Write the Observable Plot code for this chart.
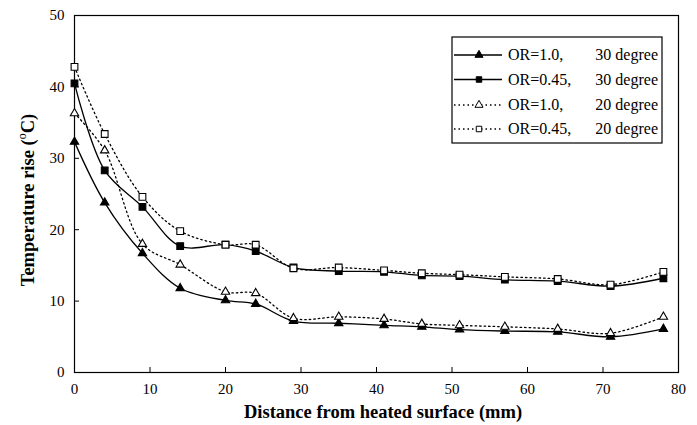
<!DOCTYPE html>
<html>
<head>
<meta charset="utf-8">
<script src="https://cdn.jsdelivr.net/npm/d3@7"></script>
<script src="https://cdn.jsdelivr.net/npm/@observablehq/plot@0.6"></script>
<style>
  html, body { margin: 0; padding: 0; background: #fff; }
  #chart { width: 697px; height: 425px; }
</style>
</head>
<body>
<div id="chart"></div>
<script>
// Data
const distance = [0, 4, 9, 14, 20, 24, 29, 35, 41, 46, 51, 57, 64, 71, 78];
const or10_30 = [32.3, 23.8, 16.7, 11.8, 10.1, 9.6, 7.2, 6.9, 6.6, 6.4, 6.0, 5.8, 5.7, 5.0, 6.1];
const or045_30 = [40.5, 28.3, 23.2, 17.7, 17.9, 17.0, 14.7, 14.2, 14.1, 13.6, 13.5, 13.0, 12.8, 12.1, 13.2];
const or10_20 = [36.3, 31.1, 18.0, 15.1, 11.3, 11.1, 7.6, 7.8, 7.5, 6.8, 6.6, 6.4, 6.1, 5.5, 7.8];
const or045_20 = [42.8, 33.4, 24.6, 19.8, 17.9, 17.9, 14.6, 14.7, 14.3, 13.9, 13.7, 13.4, 13.1, 12.3, 14.1];
const xTicks = [0, 10, 20, 30, 40, 50, 60, 70, 80];
const yTicks = [0, 10, 20, 30, 40, 50];
const seriesNames = ["OR=1.0,", "OR=0.45,", "OR=1.0,", "OR=0.45,"];
const seriesAngles = ["30 degree", "30 degree", "20 degree", "20 degree"];

const series = [
  {values: or10_30, symbol: "triangle", fill: "black", dash: null},
  {values: or045_30, symbol: "square", fill: "black", dash: null},
  {values: or10_20, symbol: "triangle", fill: "white", dash: "1.5,3"},
  {values: or045_20, symbol: "square", fill: "white", dash: "1.5,3"}
];
const rows = series.map((s, i) => distance.map((x, j) => ({x, y: s.values[j], k: i})));

const font = "'Liberation Serif', 'Times New Roman', serif";
const lineMarks = series.map((s, i) => Plot.line(rows[i], {
  x: "x", y: "y", curve: "catmull-rom", stroke: "black", strokeWidth: 1.3,
  strokeDasharray: s.dash ?? undefined
}));
const dotMarks = series.map((s, i) => Plot.dot(rows[i], {
  x: "x", y: "y", symbol: () => s.symbol, r: s.symbol === "triangle" ? 3.1 : 3.8,
  fill: s.fill, stroke: "black", strokeWidth: 1.1
}));

const chart = Plot.plot({
  width: 697, height: 425,
  marginLeft: 74, marginRight: 19, marginTop: 15, marginBottom: 53,
  style: {fontFamily: font, fontSize: "15px", color: "black", background: "white"},
  x: {domain: [0, 80], ticks: xTicks},
  y: {domain: [0, 50], ticks: yTicks},
  marks: [
    Plot.frame({stroke: "black", strokeWidth: 1.2}),
    Plot.axisX(xTicks, {tickSize: -5, tickPadding: 16, label: null, fontSize: 15, strokeWidth: 1}),
    Plot.axisY(yTicks, {tickSize: -5, tickPadding: 15, label: null, fontSize: 15, strokeWidth: 1}),
    ...lineMarks,
    ...dotMarks
  ]
});
document.getElementById("chart").appendChild(chart);

// Axis titles and legend
const svg = d3.select(chart);
svg.append("text")
  .attr("x", 383).attr("y", 418)
  .attr("text-anchor", "middle")
  .attr("font-family", font).attr("font-weight", "bold").attr("font-size", 18.5)
  .text("Distance from heated surface (mm)");
const yt = svg.append("text")
  .attr("transform", "translate(34,200) rotate(-90)")
  .attr("text-anchor", "middle")
  .attr("font-family", font).attr("font-weight", "bold").attr("font-size", 18.5);
yt.append("tspan").text("Temperature rise (");
yt.append("tspan").attr("dy", -8).attr("font-size", 12).attr("font-weight", "normal").text("o");
yt.append("tspan").attr("dy", 8).text("C)");

const lg = svg.append("g");
lg.append("rect").attr("x", 452).attr("y", 37).attr("width", 210).attr("height", 106)
  .attr("fill", "white").attr("stroke", "black").attr("stroke-width", 1.2);
const rowY = [55, 79.5, 105, 129];
series.forEach((s, i) => {
  const y = rowY[i];
  lg.append("line").attr("x1", 454).attr("x2", 502).attr("y1", y).attr("y2", y)
    .attr("stroke", "black").attr("stroke-width", 1.3)
    .attr("stroke-dasharray", s.dash);
  const sym = s.symbol === "triangle" ? d3.symbolTriangle : d3.symbolSquare;
  lg.append("path").attr("d", d3.symbol(sym, s.symbol === "triangle" ? 28 : 30)())
    .attr("transform", `translate(479,${y})`)
    .attr("fill", s.fill).attr("stroke", "black").attr("stroke-width", 1);
  lg.append("text").attr("x", 508).attr("y", y + 5).attr("text-anchor", "start")
    .attr("font-family", font).attr("font-size", 16).text(seriesNames[i]);
  lg.append("text").attr("x", 658).attr("y", y + 5).attr("text-anchor", "end")
    .attr("font-family", font).attr("font-size", 16).text(seriesAngles[i]);
});
</script>
</body>
</html>
